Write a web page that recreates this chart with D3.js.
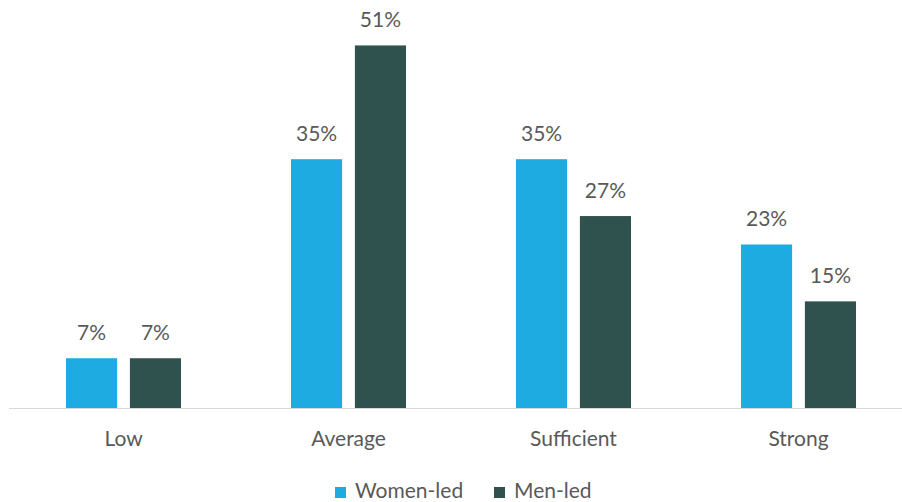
<!DOCTYPE html>
<html>
<head>
<meta charset="utf-8">
<script src="https://cdn.jsdelivr.net/npm/d3@7"></script>
<style>
  html, body { margin: 0; padding: 0; background: #fff; }
  svg { display: block; }
  text { font-family: Lato, "Open Sans", "Liberation Sans", sans-serif; fill: #595959; }
</style>
</head>
<body>
<svg id="chart" width="902" height="502"></svg>
<script>
// Capacity level categories and share of enterprises per leadership group (%)
const categories = ["Low", "Average", "Sufficient", "Strong"];
const seriesNames = ["Women-led", "Men-led"];
const womenLed = [7, 35, 35, 23];
const menLed = [7, 51, 27, 15];
const seriesColors = ["#1eabe2", "#2f524f"];

const svg = d3.select("#chart");
const baseY = 408;
const fontSize = 21;

const x0 = d3.scaleBand().domain(categories).range([11, 911]);
const x1 = d3.scaleBand().domain(seriesNames).range([-57.5, 57.5]).paddingInner(0.2);
const y = d3.scaleLinear().domain([0, 55]).range([baseY, 17]);

const rows = categories.map((c, i) => ({
  category: c,
  values: [
    { series: seriesNames[0], value: womenLed[i], color: seriesColors[0] },
    { series: seriesNames[1], value: menLed[i], color: seriesColors[1] }
  ]
}));

const groups = svg.selectAll("g.cat")
  .data(rows)
  .join("g")
  .attr("class", "cat")
  .attr("transform", d => `translate(${x0(d.category) + x0.bandwidth() / 2},0)`);

groups.selectAll("rect")
  .data(d => d.values)
  .join("rect")
  .attr("x", d => x1(d.series))
  .attr("width", x1.bandwidth())
  .attr("y", d => y(d.value))
  .attr("height", d => y(0) - y(d.value))
  .attr("fill", d => d.color);

groups.selectAll("text.val")
  .data(d => d.values)
  .join("text")
  .attr("class", "val")
  .attr("x", d => x1(d.series) + x1.bandwidth() / 2)
  .attr("y", d => y(d.value) - 18)
  .attr("text-anchor", "middle")
  .attr("font-size", fontSize)
  .text(d => d.value + "%");

// Category axis
const xAxis = d3.axisBottom(x0).tickSize(0).tickPadding(0);
const axisG = svg.append("g")
  .attr("transform", `translate(0,${baseY})`)
  .call(xAxis);
axisG.select(".domain").remove();
axisG.selectAll(".tick text")
  .attr("font-size", fontSize)
  .attr("dy", null)
  .attr("y", 38)
  .style("font-family", "Lato, 'Open Sans', 'Liberation Sans', sans-serif")
  .attr("fill", "#595959");

svg.append("line")
  .attr("x1", 9).attr("x2", 902)
  .attr("y1", baseY + 0.5).attr("y2", baseY + 0.5)
  .attr("stroke", "#d9d9d9")
  .attr("stroke-width", 1);

// Legend
const legendX = [335, 494];
const legend = svg.append("g");
seriesNames.forEach((name, i) => {
  legend.append("rect")
    .attr("x", legendX[i]).attr("y", 487)
    .attr("width", 11).attr("height", 11)
    .attr("fill", seriesColors[i]);
  legend.append("text")
    .attr("x", legendX[i] + 20).attr("y", 498)
    .attr("font-size", fontSize)
    .text(name);
});
</script>
</body>
</html>
